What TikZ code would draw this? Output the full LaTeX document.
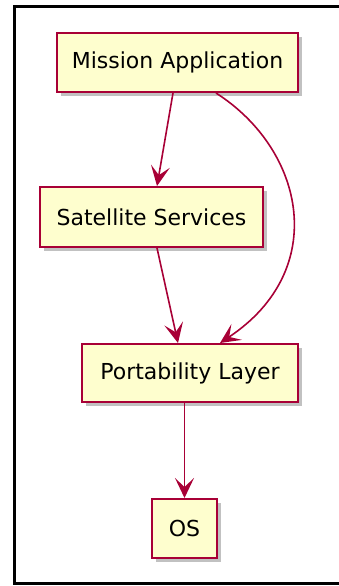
\documentclass[tikz,border=0pt]{standalone}
\usepackage{fontspec}
\setmainfont{DejaVu Sans}
\usetikzlibrary{arrows.meta,shadows}
\definecolor{umlred}{HTML}{A80036}
\definecolor{umlfill}{HTML}{FEFECE}
\tikzset{
	comp/.style={draw=umlred, fill=umlfill, line width=2pt, inner sep=0pt,
		font=\fontsize{22}{26}\selectfont,
		drop shadow={shadow xshift=4pt, shadow yshift=-4pt, fill=black!35, opacity=.7}},
	dep/.style={draw=umlred, line width=1.6pt, -{Stealth[length=20pt, width=19pt, inset=9pt]}}
}
\begin{document}
\begin{tikzpicture}[x=1pt, y=-1pt]
		\useasboundingbox (0,0) rectangle (339,586);
		% the frame round everything
		\draw[line width=3pt] (14,7) rectangle (350,583);
		% the components
		\node[comp, minimum width=241pt, minimum height=59pt] (mission) at (177.5,62.5) {Mission Application};
		\node[comp, minimum width=223pt, minimum height=60pt] (sat) at (151.5,217) {Satellite Services};
		\node[comp, minimum width=216pt, minimum height=58pt] (port) at (190,373) {Portability Layer};
		\node[comp, minimum width=65pt, minimum height=59pt] (os) at (184.5,528.5) {OS};
		% dependencies
		\draw[dep] (mission.south -| 173,0) -- (sat.north -| 157,0);
		\draw[dep] (sat.south -| 157,0) -- (port.north -| 178,0);
		\draw[dep] (mission.south -| 216,0) .. controls (305,150) and (330,270) .. (port.north -| 220,0);
		\draw[dep] (port.south -| os.north) -- (os.north);
	\end{tikzpicture}
\end{document}
